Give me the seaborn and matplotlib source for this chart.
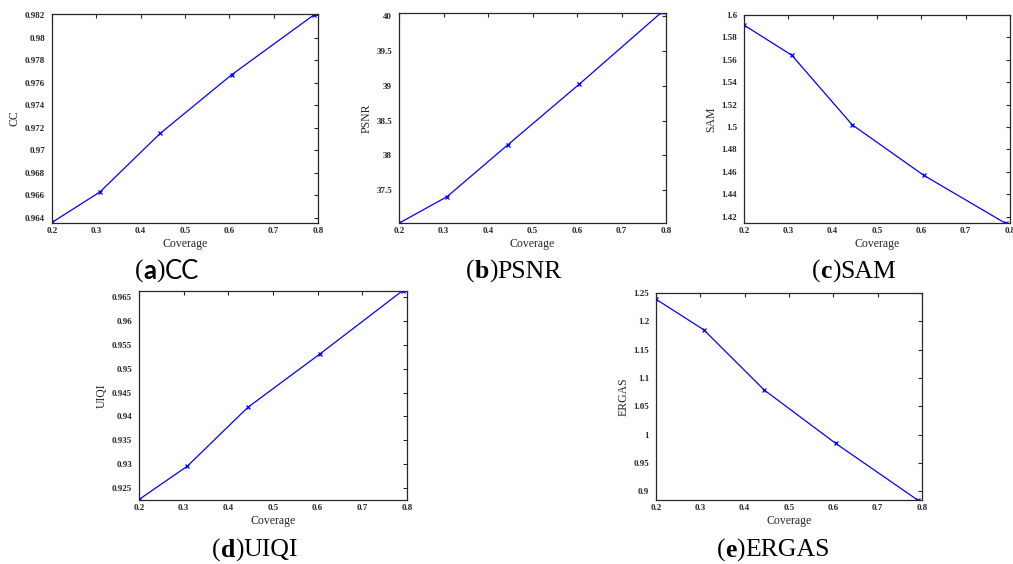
import matplotlib
matplotlib.use("Agg")
import matplotlib.pyplot as plt
import seaborn as sns
import numpy as np
import pandas as pd
from matplotlib.ticker import FuncFormatter, MultipleLocator

# ---- data ----
coverage = [0.2, 0.308, 0.444, 0.605, 0.79]
cc_vals = [0.9636, 0.9663, 0.9715, 0.9767, 0.9820]
psnr_vals = [37.03, 37.41, 38.15, 39.02, 40.05]
sam_vals = [1.591, 1.564, 1.502, 1.457, 1.414]
uiqi_vals = [0.9225, 0.9295, 0.9419, 0.9531, 0.9664]
ergas_vals = [1.239, 1.185, 1.079, 0.985, 0.885]

metric_names = ["CC", "PSNR", "SAM", "UIQI", "ERGAS"]
panel_letters = ["a", "b", "c", "d", "e"]
y_limits = [(0.96355, 0.9821), (37.033, 40.04), (1.4143, 1.6), (0.9224, 0.96634), (0.885, 1.25)]
y_steps = [0.002, 0.5, 0.02, 0.005, 0.05]
x_limits = (0.2, 0.8)
x_step = 0.1

sns.set_theme(style="white")
plt.rcParams["font.family"] = ["Liberation Serif", "DejaVu Serif"]

W, H = 1013, 564
fig = plt.figure(figsize=(W / 100, H / 100), dpi=100)

# axes boxes in pixels: left, right, top, bottom
boxes = [(52, 318, 14, 223), (399, 666, 13, 223), (744, 1010, 15, 223),
         (139, 407, 291, 500), (656, 922, 293, 500)]
caption_pos = [(167, 269), (514, 269), (854, 269), (255, 548), (773, 548)]

values = [cc_vals, psnr_vals, sam_vals, uiqi_vals, ergas_vals]

fmt = FuncFormatter(lambda v, p: f"{round(v, 6):g}")

for i, (name, vals) in enumerate(zip(metric_names, values)):
    l, r, t, b = boxes[i]
    ax = fig.add_axes([l / W, 1 - b / H, (r - l) / W, (b - t) / H])
    df = pd.DataFrame({"Coverage": coverage, name: vals})
    sns.lineplot(data=df, x="Coverage", y=name, ax=ax, color="#0000ff",
                 marker="x", markersize=3, markeredgecolor="#0000ff",
                 markeredgewidth=0.9, linewidth=0.9)
    ax.set_xlim(*x_limits)
    ax.set_ylim(*y_limits[i])
    ax.xaxis.set_major_locator(MultipleLocator(x_step))
    ax.yaxis.set_major_locator(MultipleLocator(y_steps[i]))
    ax.xaxis.set_major_formatter(fmt)
    ax.yaxis.set_major_formatter(fmt)
    ax.tick_params(axis="both", direction="in", top=True, right=True,
                   length=3, width=0.8, color="#262626", labelsize=6.5)
    ax.tick_params(axis="y", pad=5)
    ax.tick_params(axis="x", pad=3)
    for lab in ax.get_xticklabels() + ax.get_yticklabels():
        lab.set_fontweight("bold")
        lab.set_color("#262626")
    for sp in ax.spines.values():
        sp.set_visible(True)
        sp.set_color("#262626")
        sp.set_linewidth(0.9)
    ax.set_xlabel("Coverage", fontsize=8.5, color="#262626", labelpad=2)
    ax.set_ylabel(name, fontsize=8.5, color="#262626", labelpad=3)
    ax.grid(False)

    # caption "(x)NAME" with bold letter
    cx, cy = caption_pos[i]
    name_font = ["Lato", "DejaVu Sans"] if name == "CC" else ["Liberation Serif", "DejaVu Serif"]
    t0 = fig.text(0, 0, "(", fontsize=18.5, family=["Liberation Serif"], color="black")
    t1 = fig.text(0, 0, panel_letters[i], fontsize=18.5, fontweight="bold",
                  family=["Liberation Serif"] if name != "CC" else ["Lato"], color="black")
    t2 = fig.text(0, 0, ")", fontsize=18.5, family=["Liberation Serif"], color="black")
    t3 = fig.text(0, 0, name, fontsize=18.5, family=name_font, color="black")
    fig.canvas.draw()
    rend = fig.canvas.get_renderer()
    widths = [t.get_window_extent(rend).width for t in (t0, t1, t2, t3)]
    total = sum(widths)
    x = cx - total / 2
    for t, w in zip((t0, t1, t2, t3), widths):
        t.set_position((x / W, 1 - cy / H))
        t.set_verticalalignment("center_baseline")
        x += w

fig.savefig("out.png", dpi=100)
